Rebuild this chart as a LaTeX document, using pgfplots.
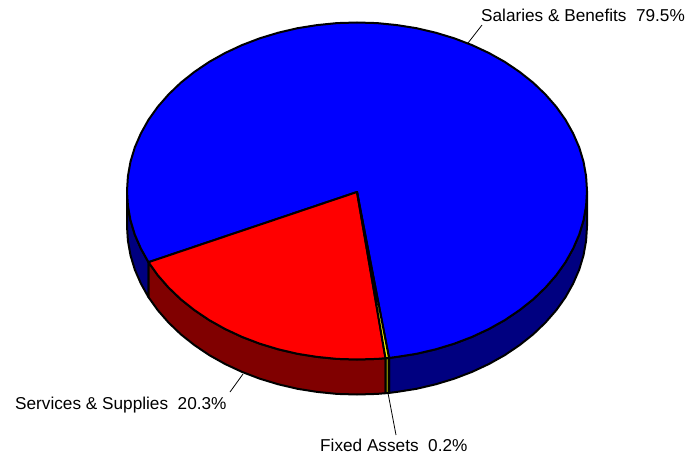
\documentclass[border=0pt]{standalone}
\usepackage{fontspec}
\setmainfont{Liberation Sans}
\usepackage{pgfplots}
\pgfplotsset{compat=1.18}
\definecolor{pieblue}{RGB}{0,0,255}
\definecolor{piered}{RGB}{255,0,0}
\definecolor{pieyellow}{RGB}{255,255,0}
\definecolor{sideblue}{RGB}{0,0,128}
\definecolor{sidered}{RGB}{128,0,0}
\definecolor{sideyellow}{RGB}{128,128,0}
\begin{document}
\begin{tikzpicture}
\begin{axis}[
  scale only axis, width=700pt, height=457pt,
  xmin=0, xmax=700, ymin=0, ymax=457, y dir=reverse,
  hide axis, clip=false,
  every axis plot/.append style={line width=2pt, line join=round, draw=black, mark=none},
]
\path (axis cs:0,0) rectangle (axis cs:700,457);
% side, left part of the blue slice
\addplot[fill=sideblue] coordinates {(127,191)(127.9,205.7)(130.5,220.3)(134.8,234.6)(140.9,248.6)(148.5,262.2)(148.5,297.2)(140.9,283.6)(134.8,269.6)(130.5,255.3)(127.9,240.7)(127,226)} -- cycle;
% side, right part of the blue slice
\addplot[fill=sideblue] coordinates {(389,357.9)(396.9,356.9)(416.5,353.8)(435.7,349.3)(454.2,343.7)(472,336.9)(488.9,329.0)(504.8,320.1)(519.6,310.1)(533.2,299.3)(545.4,287.6)(556.2,275.25)(565.5,262.2)(573.1,248.6)(579.2,234.6)(583.5,220.3)(586.1,205.7)(587,191)(587,226)(586.1,240.7)(583.5,255.3)(579.2,269.6)(573.1,283.6)(565.5,297.2)(556.2,310.25)(545.4,322.6)(533.2,334.3)(519.6,345.1)(504.8,355.1)(488.9,364.0)(472,371.9)(454.2,378.7)(435.7,384.3)(416.5,388.8)(396.9,391.9)(389,392.9)} -- cycle;
% side, red slice
\addplot[fill=sidered] coordinates {(148.5,262.2)(157.8,275.25)(168.6,287.6)(180.8,299.3)(194.4,310.1)(209.2,320.1)(225.1,329.0)(242,336.9)(259.8,343.7)(278.3,349.3)(297.5,353.8)(317.1,356.9)(337,358.9)(357,359.5)(377,358.9)(385.5,358.2)(385.5,393.2)(377,393.9)(357,394.5)(337,393.9)(317.1,391.9)(297.5,388.8)(278.3,384.3)(259.8,378.7)(242,371.9)(225.1,364.0)(209.2,355.1)(194.4,345.1)(180.8,334.3)(168.6,322.6)(157.8,310.25)(148.5,297.2)} -- cycle;
% side, fixed assets
\addplot[fill=sideyellow] coordinates {(385.5,358.2)(389,357.9)(389,392.9)(385.5,393.2)} -- cycle;
% top, blue slice
\addplot[fill=pieblue] coordinates {(357,192)(389,357.9)(396.9,356.9)(416.5,353.8)(435.7,349.3)(454.2,343.7)(472,336.9)(488.9,329.0)(504.8,320.1)(519.6,310.1)(533.2,299.3)(545.4,287.6)(556.2,275.25)(565.5,262.2)(573.1,248.6)(579.2,234.6)(583.5,220.3)(586.1,205.7)(587,191)(586.1,176.3)(583.5,161.7)(579.2,147.4)(573.1,133.4)(565.5,119.8)(556.2,106.75)(545.4,94.4)(533.2,82.7)(519.6,71.9)(504.8,61.9)(488.9,53.0)(472,45.1)(454.2,38.3)(435.7,32.7)(416.5,28.2)(396.9,25.1)(377,23.1)(357,22.5)(337,23.1)(317.1,25.1)(297.5,28.2)(278.3,32.7)(259.8,38.3)(242,45.1)(225.1,53.0)(209.2,61.9)(194.4,71.9)(180.8,82.7)(168.6,94.4)(157.8,106.75)(148.5,119.8)(140.9,133.4)(134.8,147.4)(130.5,161.7)(127.9,176.3)(127,191)(127.9,205.7)(130.5,220.3)(134.8,234.6)(140.9,248.6)(148.5,262.2)} -- cycle;
% top, red slice
\addplot[fill=piered] coordinates {(357,192)(148.5,262.2)(157.8,275.25)(168.6,287.6)(180.8,299.3)(194.4,310.1)(209.2,320.1)(225.1,329.0)(242,336.9)(259.8,343.7)(278.3,349.3)(297.5,353.8)(317.1,356.9)(337,358.9)(357,359.5)(377,358.9)(385.5,358.2)} -- cycle;
% top, fixed assets
\addplot[fill=pieyellow] coordinates {(357,192)(385.5,358.2)(389,357.9)} -- cycle;
% leader lines
\addplot[line width=0.8pt] coordinates {(468,43)(482,25)};
\addplot[line width=0.8pt] coordinates {(243,374)(230,392)};
\addplot[line width=0.8pt] coordinates {(388,393)(396,435)};
\node[anchor=base west, inner sep=0pt, font=\fontsize{17.2}{20}\selectfont] at (axis cs:481,21.7) {Salaries \& Benefits\ \ 79.5\%};
\node[anchor=base west, inner sep=0pt, font=\fontsize{17.2}{20}\selectfont] at (axis cs:15,409) {Services \& Supplies\ \ 20.3\%};
\node[anchor=base west, inner sep=0pt, font=\fontsize{17.2}{20}\selectfont] at (axis cs:320,451.7) {Fixed Assets\ \ 0.2\%};
\end{axis}
\end{tikzpicture}
\end{document}
